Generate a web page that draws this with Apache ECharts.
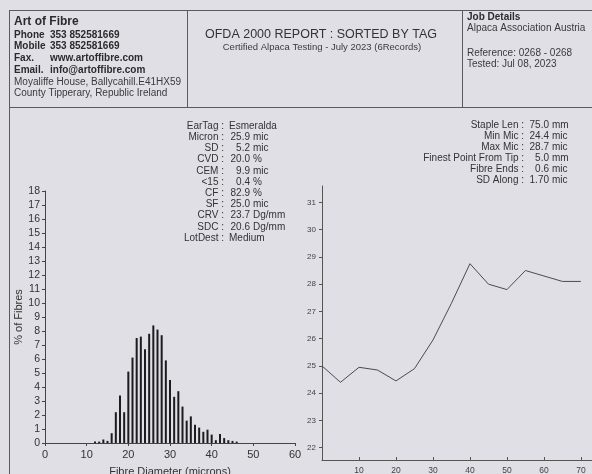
<!DOCTYPE html>
<html>
<head>
<meta charset="utf-8">
<title>OFDA 2000 Report</title>
<script src="https://cdn.jsdelivr.net/npm/echarts@6/dist/echarts.min.js"></script>
<style>
  html, body { margin: 0; padding: 0; background: #dfdfe5; }
  #chart { width: 592px; height: 474px; }
</style>
</head>
<body>
<div id="chart"></div>
<script>
// histogram: fibre diameter (micron) -> % of fibres
var diameters = [12, 13, 14, 15, 16, 17, 18, 19, 20, 21, 22, 23, 24, 25, 26, 27, 28, 29,
                 30, 31, 32, 33, 34, 35, 36, 37, 38, 39, 40, 41, 42, 43, 44, 45, 46];
var percents  = [0.1, 0.1, 0.25, 0.15, 0.7, 2.2, 3.4, 2.2, 5.1, 6.1, 7.5, 7.6, 6.7, 7.8, 8.4, 8.1, 7.7, 5.9,
                 4.5, 3.3, 3.7, 2.6, 1.6, 1.9, 1.3, 1.1, 0.8, 0.95, 0.6, 0.2, 0.65, 0.35, 0.2, 0.15, 0.1];

// profile along the staple: distance from tip (mm) -> micron
var profileMm  = [0, 5, 10, 15, 20, 25, 30, 35, 40, 45, 50, 55, 60, 65, 70];
var profileMic = [25.0, 24.4, 24.95, 24.85, 24.45, 24.9, 25.95, 27.3, 28.75, 28.0, 27.8, 28.5, 28.3, 28.1, 28.1];
var profileTicks = [22, 23, 24, 25, 26, 27, 28, 29, 30, 31];

// text blocks
var statNames = ['EarTag', 'Micron', 'SD', 'CVD', 'CEM', '<15', 'CF', 'SF', 'CRV', 'SDC', 'LotDest'];
var statNums  = ['Esmeralda', '25.9', '5.2', '20.0', '9.9', '0.4', '82.9', '25.0', '23.7', '20.6', 'Medium'];
var statUnits = ['', 'mic', 'mic', '%', 'mic', '%', '%', 'mic', 'Dg/mm', 'Dg/mm', ''];

var stapleNames = ['Staple Len', 'Min Mic', 'Max Mic', 'Finest Point From Tip', 'Fibre Ends', 'SD Along'];
var stapleNums  = ['75.0', '24.4', '28.7', '5.0', '0.6', '1.70'];
var stapleUnits = ['mm', 'mic', 'mic', 'mm', 'mic', 'mic'];

var contactLabels = ['Phone', 'Mobile', 'Fax.', 'Email.'];
var contactValues = ['353 852581669', '353 852581669', 'www.artoffibre.com', 'info@artoffibre.com'];
var addressLines  = ['Moyaliffe House, Ballycahill.E41HX59', 'County Tipperary, Republic Ireland'];

var FONT = '"Liberation Sans", Arial, sans-serif';
var INK = '#2b2b2e';
var GREY = '#333336';

function txt(x, y, s, opt) {
    opt = opt || {};
    return {
        type: 'text', x: x, y: y, silent: true,
        style: {
            text: s, fill: opt.fill || INK, fontFamily: FONT,
            fontSize: opt.size || 10, fontWeight: opt.bold ? 'bold' : 'normal',
            align: opt.align || 'left', verticalAlign: 'middle'
        }
    };
}
function line(x1, y1, x2, y2) {
    return { type: 'line', silent: true, shape: { x1: x1, y1: y1, x2: x2, y2: y2 },
             style: { stroke: '#5a5a60', lineWidth: 1 } };
}

var g = [];
// header frame
g.push(line(10, 10.5, 592, 10.5));
g.push(line(10, 107.5, 592, 107.5));
g.push(line(9.5, 10, 9.5, 474));
g.push(line(187.5, 10, 187.5, 107));
g.push(line(462.5, 10, 462.5, 107));

// left header
g.push(txt(14, 22, 'Art of Fibre', { size: 12, bold: true }));
for (var i = 0; i < contactLabels.length; i++) {
    g.push(txt(14, 35 + i * 11.7, contactLabels[i], { bold: true }));
    g.push(txt(50, 35 + i * 11.7, contactValues[i], { bold: true }));
}
for (var i = 0; i < addressLines.length; i++) {
    g.push(txt(14, 82 + i * 11, addressLines[i], { fill: '#3a3a3e' }));
}

// centre header
g.push(txt(321, 35, 'OFDA 2000 REPORT : SORTED BY TAG', { size: 12.5, align: 'center', fill: GREY }));
g.push(txt(322, 47, 'Certified Alpaca Testing - July 2023 (6Records)', { size: 9.5, align: 'center', fill: '#3a3a3e' }));

// right header
g.push(txt(467, 17, 'Job Details', { bold: true }));
g.push(txt(467, 28, 'Alpaca Association Austria', { fill: '#3a3a3e' }));
g.push(txt(467, 53, 'Reference: 0268 - 0268', { fill: '#3a3a3e' }));
g.push(txt(467, 64, 'Tested: Jul 08, 2023', { fill: '#3a3a3e' }));

// fibre statistics
for (var i = 0; i < statNames.length; i++) {
    var y = 126 + i * 11.2;
    g.push(txt(224, y, statNames[i] + ' :', { align: 'right', fill: GREY }));
    if (statUnits[i]) {
        g.push(txt(250, y, statNums[i], { align: 'right', fill: GREY }));
        g.push(txt(253, y, statUnits[i], { fill: GREY }));
    } else {
        g.push(txt(229, y, statNums[i], { fill: GREY }));
    }
}
// staple statistics
for (var i = 0; i < stapleNames.length; i++) {
    var y = 125 + i * 11.1;
    g.push(txt(524, y, stapleNames[i] + ' :', { align: 'right', fill: GREY }));
    g.push(txt(549, y, stapleNums[i], { align: 'right', fill: GREY }));
    g.push(txt(552, y, stapleUnits[i], { fill: GREY }));
}

var chart = echarts.init(document.getElementById('chart'), null, { renderer: 'canvas' });
chart.setOption({
    backgroundColor: '#dfdfe5',
    animation: false,
    textStyle: { fontFamily: FONT },
    grid: [
        { left: 45, top: 191, width: 250, height: 252, outerBoundsMode: 'none', containLabel: false },
        { left: 322, top: 186, right: 0, height: 274, outerBoundsMode: 'none', containLabel: false }
    ],
    xAxis: [{
        gridIndex: 0, type: 'value', min: 0, max: 60, interval: 10,
        name: 'Fibre Diameter (microns)', nameLocation: 'middle', nameGap: 23,
        nameTextStyle: { fontSize: 11, color: '#333' },
        axisLine: { lineStyle: { color: '#444', width: 1 } },
        axisTick: { show: true, length: 3, lineStyle: { color: '#444' } },
        axisLabel: { fontSize: 11, color: '#333', margin: 6 },
        splitLine: { show: false }
    }, {
        gridIndex: 1, type: 'value', min: 0, max: 73, interval: 10,
        axisLine: { lineStyle: { color: '#555', width: 1 } },
        axisTick: { show: true, inside: true, length: 3, lineStyle: { color: '#555' } },
        axisLabel: { fontSize: 8.5, color: '#444', margin: 6, showMinLabel: false, showMaxLabel: false },
        splitLine: { show: false }
    }],
    yAxis: [{
        gridIndex: 0, type: 'value', min: 0, max: 18, interval: 1,
        name: '% of Fibres', nameLocation: 'middle', nameRotate: 90, nameGap: 20,
        nameTextStyle: { fontSize: 11, color: '#333' },
        axisLine: { show: true, lineStyle: { color: '#444', width: 1 } },
        axisTick: { show: true, length: 3, lineStyle: { color: '#444' } },
        axisLabel: { fontSize: 10.5, color: '#333', margin: 5 },
        splitLine: { show: false }
    }, {
        gridIndex: 1, type: 'value', min: 21.55, max: 31.6,
        axisLine: { show: true, lineStyle: { color: '#555', width: 1 } },
        axisTick: { show: true, length: 3, customValues: profileTicks, lineStyle: { color: '#555' } },
        axisLabel: { fontSize: 8, color: '#444', margin: 6, customValues: profileTicks },
        splitLine: { show: false }
    }],
    series: [{
        type: 'bar', xAxisIndex: 0, yAxisIndex: 0, barWidth: 2,
        itemStyle: { color: '#1c1c1e' },
        data: diameters.map(function (d, i) { return [d, percents[i]]; })
    }, {
        type: 'line', xAxisIndex: 1, yAxisIndex: 1, symbol: 'none',
        lineStyle: { color: '#4a4a50', width: 1 },
        data: profileMm.map(function (d, i) { return [d, profileMic[i]]; })
    }],
    graphic: g
});
</script>
</body>
</html>
